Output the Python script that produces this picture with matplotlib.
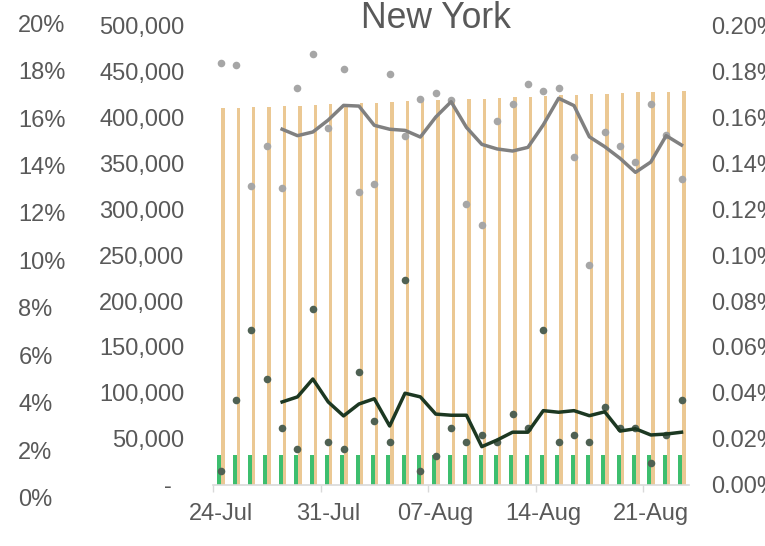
import matplotlib
matplotlib.use("Agg")
import matplotlib.pyplot as plt
import matplotlib.ticker as mtick
import numpy as np
import pandas as pd

plt.rcParams['font.family'] = ['Liberation Sans', 'DejaVu Sans']

# 24-Jul .. 23-Aug
dates = pd.date_range("2020-07-24", "2020-08-23")

tests = [410040, 410400, 411130, 411490, 412220, 412940, 413670, 414400, 415120, 415490,
         416210, 416940, 417670, 418580, 419120, 419850, 420210, 420570, 421300, 422030,
         422750, 423480, 424210, 424930, 425300, 426020, 426750, 427480, 427840, 428200,
         428930]
cases = [32000, 32000, 32000, 32000, 32000, 32000, 32000, 32000, 32000, 32000,
         32000, 32000, 32000, 32000, 32000, 32000, 32000, 32000, 32000, 32000,
         32000, 32000, 32000, 32000, 32000, 32000, 32000, 32000, 32000, 32000,
         32000]

# daily rates in percent (right axis)
grey_pts = [0.1838, 0.1828, 0.1303, 0.1476, 0.1294, 0.1730, 0.1878, 0.1553, 0.1813, 0.1277,
            0.1309, 0.1790, 0.1521, 0.1681, 0.1705, 0.1677, 0.1224, 0.1131, 0.1584, 0.1659,
            0.1745, 0.1717, 0.1730, 0.1428, 0.0959, 0.1537, 0.1477, 0.1406, 0.1658, 0.1525,
            0.1333]
grey_avg = [None, None, None, None,
            0.1549, 0.1521, 0.1537, 0.1589, 0.1653, 0.1650, 0.1566, 0.1549, 0.1544, 0.1515,
            0.1602, 0.1669, 0.1557, 0.1483, 0.1463, 0.1454, 0.1470, 0.1568, 0.1684, 0.1652,
            0.1516, 0.1473, 0.1422, 0.1361, 0.1406, 0.1521, 0.1480]
dark_pts = [0.0061, 0.0368, 0.0675, 0.0460, 0.0245, 0.0153, 0.0767, 0.0184, 0.0153, 0.0491,
            0.0276, 0.0184, 0.0890, 0.0061, 0.0123, 0.0245, 0.0184, 0.0215, 0.0184, 0.0307,
            0.0245, 0.0675, 0.0184, 0.0215, 0.0184, 0.0337, 0.0245, 0.0245, 0.0092, 0.0215,
            0.0368]
dark_avg = [None, None, None, None,
            0.0360, 0.0382, 0.0460, 0.0360, 0.0299, 0.0351, 0.0374, 0.0255, 0.0398, 0.0382,
            0.0307, 0.0302, 0.0302, 0.0165, 0.0194, 0.0228, 0.0228, 0.0322, 0.0315, 0.0322,
            0.0300, 0.0317, 0.0233, 0.0243, 0.0216, 0.0220, 0.0228]

txt = '#595959'
fs = 17
W, H = 765, 546

fig = plt.figure(figsize=(W / 100, H / 100), dpi=100)
ax = fig.add_axes([213 / W, (H - 484.5) / H, 476.2 / W, 458.7 / H])

x = np.arange(len(dates))
ax.bar(x - 0.215, cases, width=0.26, align='edge', color='#3DBE6E', zorder=2)
ax.bar(x + 0.045, tests, width=0.22, align='edge', color='#EBC893', zorder=2)

ax.set_xlim(-0.5, len(dates) - 0.5)
ax.set_ylim(0, 500000)
ax.set_yticks(np.arange(0, 500001, 50000))
ax.yaxis.set_major_formatter(mtick.FuncFormatter(lambda v, p: '-  ' if v == 0 else f'{int(v):,}'))
ax.tick_params(axis='y', length=0, pad=20.5, labelsize=fs, labelcolor=txt)

ax.set_xticks(x[::7])
ax.set_xticklabels([d.strftime('%d-%b') for d in dates[::7]])
ax.set_xticks(np.arange(-0.5, len(dates) - 1, 7), minor=True)
ax.tick_params(axis='x', which='major', length=0, pad=13.5, labelsize=fs, labelcolor=txt)
ax.tick_params(axis='x', which='minor', length=5, width=1, color='#D9D9D9')
for s in ['top', 'right', 'left']:
    ax.spines[s].set_visible(False)
ax.spines['bottom'].set_color('#D9D9D9')
ax.spines['bottom'].set_linewidth(1.2)

ax.set_title('New York', x=0.4674, y=0.9946, pad=0, fontsize=25.6, color=txt)

ax2 = ax.twinx()
ax2.scatter(x, grey_pts, s=30, color='#A6A6A6', zorder=3, linewidths=0)
ax2.scatter(x, dark_pts, s=30, color='#4F6153', zorder=3, linewidths=0)
ax2.plot(x, np.array(grey_avg, dtype=float), color='#808080', lw=2.5, zorder=4)
ax2.plot(x, np.array(dark_avg, dtype=float), color='#1C3822', lw=2.5, zorder=4)
ax2.set_ylim(0, 0.20)
ax2.set_yticks(np.arange(0, 0.2001, 0.02))
ax2.yaxis.set_major_formatter(mtick.FuncFormatter(lambda v, p: f'{v:.2f}%'))
ax2.tick_params(axis='y', length=0, pad=15.5, labelsize=fs, labelcolor=txt)
for s in ax2.spines.values():
    s.set_visible(False)

# outer left percentage axis (0% - 20%), labels left aligned
ax3 = fig.add_axes([18.3 / W - 0.0005, (H - 497.5) / H, 0.0005, 474.2 / H])
ax3.set_ylim(0, 20)
ax3.set_yticks(np.arange(0, 20.1, 2))
ax3.yaxis.set_major_formatter(mtick.FuncFormatter(lambda v, p: f'{v:.0f}%'))
ax3.yaxis.tick_right()
ax3.tick_params(axis='y', length=0, pad=0, labelsize=fs, labelcolor=txt)
ax3.set_xticks([])
ax3.patch.set_visible(False)
for s in ax3.spines.values():
    s.set_visible(False)

fig.savefig('out.png', dpi=100)
